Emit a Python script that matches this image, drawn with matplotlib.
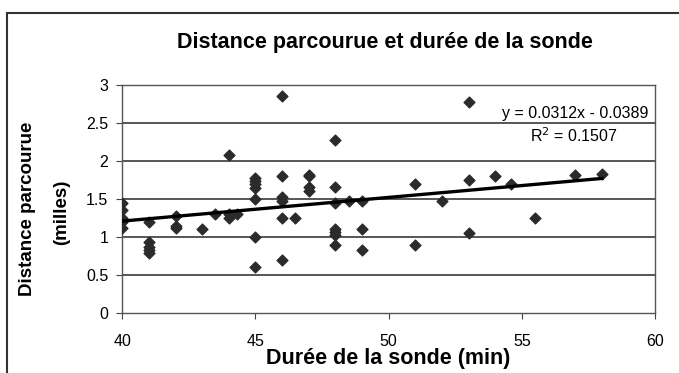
import matplotlib
matplotlib.use("Agg")
import matplotlib.pyplot as plt
from matplotlib.patches import Rectangle

plt.rcParams['font.family'] = ['Liberation Sans', 'DejaVu Sans']

# durée de la sonde (min) et distance parcourue (milles)
duree = [40, 40, 40, 40, 40,
         41, 41, 41, 41, 41,
         42, 42, 42,
         43, 43.5, 44, 44, 44, 44.3,
         45, 45, 45, 45, 45, 45, 45,
         46, 46, 46, 46, 46, 46,
         46.5,
         47, 47, 47, 47,
         48, 48, 48, 48, 48, 48, 48,
         48.5,
         49, 49, 49,
         51, 51, 52,
         53, 53, 53,
         54, 54.6, 55.5, 57, 58]
distance = [1.45, 1.35, 1.25, 1.2, 1.12,
            1.2, 0.93, 0.87, 0.83, 0.79,
            1.28, 1.15, 1.12,
            1.1, 1.3, 2.08, 1.25, 1.3, 1.3,
            1.78, 1.74, 1.7, 1.65, 1.5, 1.0, 0.6,
            2.85, 1.8, 1.52, 1.48, 1.25, 0.7,
            1.25,
            1.82, 1.8, 1.66, 1.6,
            2.28, 1.66, 1.45, 1.1, 1.07, 1.03, 0.9,
            1.48,
            1.48, 1.1, 0.83,
            1.7, 0.9, 1.48,
            2.78, 1.75, 1.05,
            1.8, 1.7, 1.25, 1.81, 1.83]

# tendance linéaire
pente = 0.0312
origine = -0.0389
r2 = 0.1507
x_tendance = [40, 58]

fig = plt.figure(figsize=(6.79, 3.73), dpi=100)
ax = fig.add_axes([0.18, 0.161, 0.785, 0.611])

for yy in [0.5, 1, 1.5, 2, 2.5, 3]:
    ax.axhline(yy, color='#3a3a3a', lw=1.2, zorder=1)

ax.scatter(duree, distance, marker='D', s=30, color='#2b2b2b', zorder=3)
ax.plot(x_tendance, [pente * v + origine for v in x_tendance],
        color='black', lw=2.4, zorder=4)

ax.set_xlim(40, 60)
ax.set_ylim(0, 3)
ax.set_xticks([40, 45, 50, 55, 60])
ax.set_yticks([0, 0.5, 1, 1.5, 2, 2.5, 3])
ax.set_yticklabels(['0', '0.5', '1', '1.5', '2', '2.5', '3'])
ax.tick_params(labelsize=11.5, length=4, color='#444444')
ax.tick_params(axis='x', pad=11)
ax.tick_params(axis='y', pad=6)
for s in ax.spines.values():
    s.set_color('#555555')
    s.set_linewidth(1.0)

ax.text(59.75, 2.63, 'y = 0.0312x - 0.0389', ha='right', va='center', fontsize=11.5)
ax.text(58.6, 2.33, f'R$^2$ = {r2}', ha='right', va='center', fontsize=11.5)

fig.text(0.572, 0.04, 'Durée de la sonde (min)', ha='center', va='center',
         fontsize=15.5, fontweight='bold')
fig.text(0.041, 0.44, 'Distance parcourue', ha='center', va='center',
         rotation=90, fontsize=13.5, fontweight='bold')
fig.text(0.091, 0.43, '(milles)', ha='center', va='center',
         rotation=90, fontsize=13.5, fontweight='bold')
fig.text(0.567, 0.887, 'Distance parcourue et durée de la sonde', ha='center',
         va='center', fontsize=15.5, fontweight='bold')

fig.patches.append(Rectangle((0.01, -0.05), 1.0, 1.015, transform=fig.transFigure,
                             fill=False, edgecolor='#333333', lw=1.5))

fig.savefig('out.png', dpi=100)
